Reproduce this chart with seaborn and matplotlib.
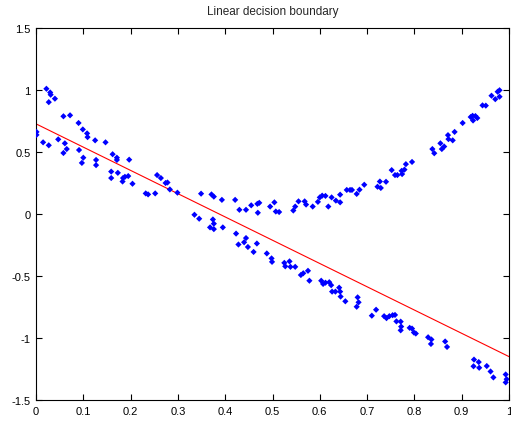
import matplotlib
matplotlib.use("Agg")
import matplotlib.pyplot as plt
import seaborn as sns
import pandas as pd

# Data points
x_vals = [0.022, 0.030, 0.031, 0.027, 0.040, 0.001, 0.001, 0.015, 0.027, 0.058,
          0.072, 0.047, 0.061, 0.065, 0.058, 0.090, 0.099, 0.108, 0.109, 0.125,
          0.147, 0.091, 0.100, 0.097, 0.127, 0.127, 0.162, 0.171, 0.171, 0.197,
          0.159, 0.159, 0.173, 0.184, 0.183, 0.188, 0.195, 0.204, 0.232, 0.237,
          0.252, 0.256, 0.264, 0.274, 0.278, 0.283, 0.299, 0.349, 0.371, 0.376,
          0.393, 0.421, 0.430, 0.444, 0.455, 0.468, 0.472, 0.469, 0.495, 0.504,
          0.507, 0.514, 0.544, 0.548, 0.555, 0.568, 0.571, 0.585, 0.596, 0.600,
          0.605, 0.612, 0.618, 0.625, 0.634, 0.643, 0.643, 0.657, 0.664, 0.668,
          0.678, 0.684, 0.694, 0.722, 0.729, 0.727, 0.740, 0.752, 0.759, 0.764,
          0.773, 0.774, 0.779, 0.782, 0.795, 0.838, 0.842, 0.855, 0.858, 0.863,
          0.871, 0.872, 0.881, 0.885, 0.902, 0.919, 0.923, 0.924, 0.929, 0.933,
          0.944, 0.951, 0.963, 0.971, 0.976, 0.980, 0.980, 0.335, 0.345, 0.374,
          0.376, 0.368, 0.376, 0.395, 0.423, 0.428, 0.444, 0.440, 0.448, 0.467,
          0.460, 0.488, 0.498, 0.499, 0.525, 0.527, 0.536, 0.538, 0.548, 0.560,
          0.565, 0.575, 0.578, 0.603, 0.607, 0.612, 0.620, 0.624, 0.626, 0.633,
          0.641, 0.643, 0.644, 0.654, 0.680, 0.682, 0.678, 0.710, 0.719, 0.736,
          0.741, 0.747, 0.754, 0.759, 0.762, 0.771, 0.772, 0.771, 0.790, 0.795,
          0.799, 0.803, 0.829, 0.836, 0.835, 0.865, 0.869, 0.926, 0.925, 0.936,
          0.937, 0.953, 0.961, 0.967, 0.993, 0.995, 0.993]
y_vals = [1.010, 0.980, 0.962, 0.902, 0.930, 0.662, 0.638, 0.578, 0.554, 0.788,
          0.796, 0.602, 0.570, 0.524, 0.492, 0.734, 0.682, 0.650, 0.620, 0.594,
          0.578, 0.516, 0.454, 0.412, 0.436, 0.394, 0.482, 0.454, 0.436, 0.438,
          0.342, 0.290, 0.332, 0.290, 0.262, 0.300, 0.306, 0.244, 0.166, 0.158,
          0.166, 0.314, 0.290, 0.250, 0.254, 0.198, 0.172, 0.164, 0.158, 0.140,
          0.114, 0.114, 0.034, 0.034, 0.070, 0.082, 0.090, 0.010, 0.060, 0.094,
          0.020, 0.016, 0.028, 0.060, 0.102, 0.102, 0.076, 0.060, 0.098, 0.134,
          0.148, 0.146, 0.060, 0.134, 0.108, 0.094, 0.156, 0.194, 0.194, 0.194,
          0.162, 0.196, 0.236, 0.220, 0.210, 0.262, 0.260, 0.354, 0.314, 0.314,
          0.348, 0.322, 0.358, 0.402, 0.420, 0.524, 0.490, 0.570, 0.524, 0.544,
          0.636, 0.604, 0.594, 0.662, 0.734, 0.782, 0.792, 0.754, 0.790, 0.774,
          0.876, 0.874, 0.954, 0.926, 0.986, 0.998, 0.946, -0.006, -0.038, -0.044,
          -0.078, -0.108, -0.122, -0.108, -0.158, -0.246, -0.194, -0.228, -0.266, -0.238,
          -0.306, -0.318, -0.358, -0.386, -0.394, -0.422, -0.382, -0.426, -0.426, -0.492,
          -0.478, -0.458, -0.538, -0.538, -0.564, -0.554, -0.550, -0.574, -0.626, -0.626,
          -0.594, -0.626, -0.666, -0.704, -0.672, -0.712, -0.748, -0.820, -0.772, -0.824,
          -0.840, -0.824, -0.816, -0.814, -0.866, -0.868, -0.908, -0.938, -0.918, -0.924,
          -0.956, -0.964, -0.994, -1.012, -1.048, -1.028, -1.072, -1.174, -1.228, -1.194,
          -1.240, -1.226, -1.270, -1.318, -1.294, -1.332, -1.358]

# Decision boundary endpoints
line_x = [0.0, 1.0]
line_y = [0.727, -1.15]

x_ticks = [0, 0.1, 0.2, 0.3, 0.4, 0.5, 0.6, 0.7, 0.8, 0.9, 1]
x_labels = ["0", "0.1", "0.2", "0.3", "0.4", "0.5", "0.6", "0.7", "0.8", "0.9", "1"]
y_ticks = [-1.5, -1, -0.5, 0, 0.5, 1, 1.5]
y_labels = ["-1.5", "-1", "-0.5", "0", "0.5", "1", "1.5"]

sns.set_style("white")
plt.rcParams["font.family"] = ["Liberation Sans", "DejaVu Sans"]

pts = pd.DataFrame({"x": x_vals, "y": y_vals})
ln = pd.DataFrame({"x": line_x, "y": line_y})

fig = plt.figure(figsize=(5.11, 4.27), dpi=100)
ax = fig.add_axes([36 / 511, 1 - 401 / 427, 473 / 511, 372 / 427])

sns.scatterplot(data=pts, x="x", y="y", ax=ax, marker="D", s=10,
                color=(0, 0, 1), edgecolor="none", linewidth=0, zorder=3)
sns.lineplot(data=ln, x="x", y="y", ax=ax, color=(1, 0, 0), linewidth=0.8,
             estimator=None, sort=False, zorder=2)

ax.set_xlim(0, 1)
ax.set_ylim(-1.5, 1.5)
ax.set_xticks(x_ticks)
ax.set_xticklabels(x_labels)
ax.set_yticks(y_ticks)
ax.set_yticklabels(y_labels)
ax.set_xlabel("")
ax.set_ylabel("")
ax.tick_params(direction="in", length=4, width=0.8, top=True, right=True,
               bottom=True, left=True, labelsize=8, colors="black", pad=4)
for s in ax.spines.values():
    s.set_visible(True)
    s.set_color("black")
    s.set_linewidth(0.8)
ax.set_title("Linear decision boundary", fontsize=8.5, pad=10)

fig.savefig("out.png", dpi=100)
